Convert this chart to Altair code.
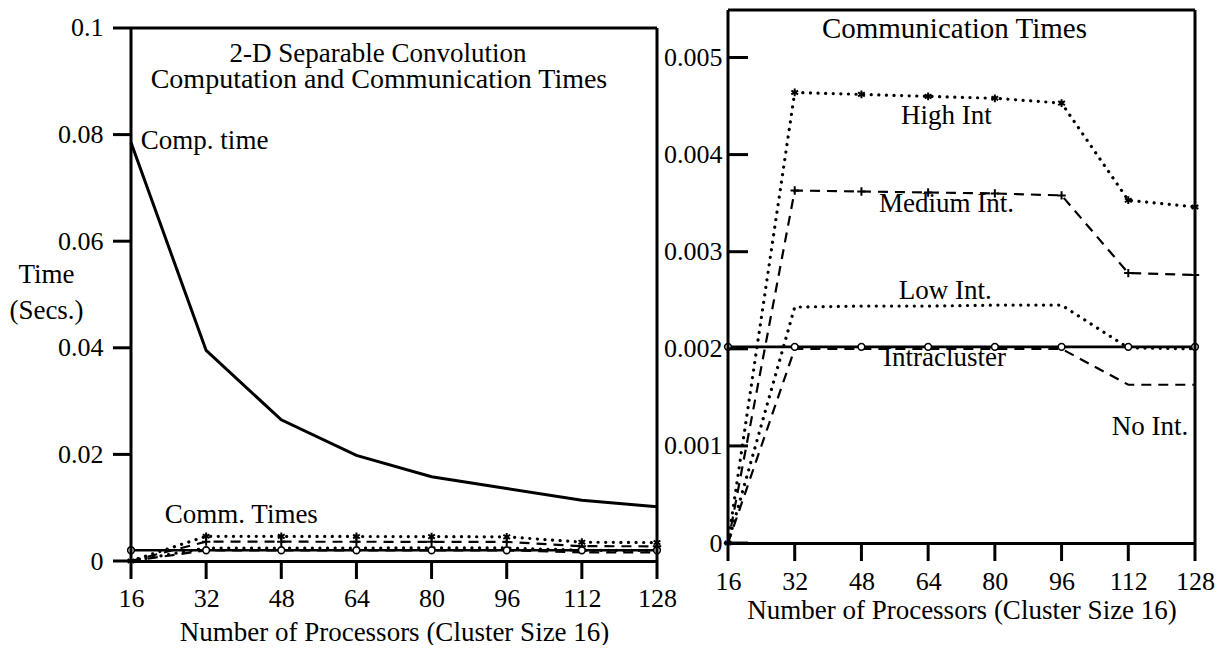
import altair as alt
import pandas as pd

# ---------------- data ----------------
procs = [16, 32, 48, 64, 80, 96, 112, 128]
comp_time = [0.0785, 0.0395, 0.0265, 0.0198, 0.0158, 0.0136, 0.0114, 0.0102]
high_int = [0.0, 0.00464, 0.00462, 0.00460, 0.00458, 0.00453, 0.00353, 0.00346]
medium_int = [0.0, 0.00363, 0.00362, 0.00361, 0.00360, 0.00358, 0.00278, 0.00276]
low_int = [0.0, 0.00243, 0.00244, 0.00244, 0.00245, 0.00245, 0.00201, 0.00200]
no_int = [0.0, 0.00200, 0.00200, 0.00200, 0.00200, 0.00200, 0.00163, 0.00163]
intracluster = [0.00202, 0.00202, 0.00202, 0.00202, 0.00202, 0.00202, 0.00202, 0.00202]

x_ticks = [16, 32, 48, 64, 80, 96, 112, 128]
left_ticks = [0, 0.02, 0.04, 0.06, 0.08, 0.1]
right_ticks = [0, 0.001, 0.002, 0.003, 0.004, 0.005]

series_names = ["High Int", "Medium Int", "Low Int", "No Int", "Intracluster"]
series_values = [high_int, medium_int, low_int, no_int, intracluster]

rows = []
for name, vals in zip(series_names, series_values):
    for p, v in zip(procs, vals):
        rows.append({"procs": p, "time": v, "series": name})
comm = pd.DataFrame(rows)
comp = pd.DataFrame({"procs": procs, "time": comp_time})

# ---------------- styling / geometry ----------------
FONT = "Liberation Serif"
ASTERISK = "M0,-1L0,1M-0.87,-0.5L0.87,0.5M-0.87,0.5L0.87,-0.5"
PLUS = "M-1,0L1,0M0,-1L0,1"

LEFT_W, RIGHT_W, PANEL_H = 526, 467, 551

LINE_STYLE = {
    "High Int": dict(strokeDash=[0.1, 7.5], strokeCap="round", strokeWidth=3.2),
    "Medium Int": dict(strokeDash=[10, 7], strokeWidth=2.2),
    "Low Int": dict(strokeDash=[0.1, 7.5], strokeCap="round", strokeWidth=3.2),
    "No Int": dict(strokeDash=[10, 7], strokeWidth=2.2),
    "Intracluster": dict(strokeWidth=2.6),
}
MARKERS = {
    "High Int": dict(shape=ASTERISK, size=60, filled=False, strokeWidth=2),
    "Medium Int": dict(shape=PLUS, size=70, filled=False, strokeWidth=2),
    "Intracluster": dict(shape="circle", size=45, filled=True, fill="white",
                         stroke="black", strokeWidth=1.6),
}

COMMON_AXIS = dict(labelFont=FONT, titleFont=FONT, labelColor="black",
                   titleColor="black", domainColor="black",
                   grid=False, labelOverlap=False, labelFlush=False,
                   titleFontWeight="normal", ticks=False, tickSize=0)

X_MIN, X_MAX = x_ticks[0], x_ticks[-1]
XS = alt.Scale(domain=[X_MIN, X_MAX], nice=False, zero=False)
LEFT_BOTTOM, LEFT_TOP = 0, 0.103377
LEFT_Y = alt.Scale(domain=[LEFT_BOTTOM, LEFT_TOP], nice=False, zero=False)
RIGHT_BOTTOM, RIGHT_TOP = -0.000185, 0.005489
RIGHT_Y = alt.Scale(domain=[RIGHT_BOTTOM, RIGHT_TOP], nice=False, zero=False)


def frame_and_ticks(top, yvals, width, ybot, ytop, y_len_px, x_len_px):
    """Panel frame (left, right, top edges) plus tick marks, all as rule
    segments; tick lengths in pixels are converted through the scale ratios."""
    x_per_px = (X_MAX - X_MIN) / width
    y_per_px = (ytop - ybot) / PANEL_H
    p1 = [X_MIN, X_MAX, X_MIN]
    p2 = [X_MIN, X_MAX, X_MAX]
    t1 = [0, 0, top]
    t2 = [top, top, top]
    for v in yvals:  # y-axis ticks
        p1.append(X_MIN)
        p2.append(X_MIN + y_len_px * x_per_px)
        t1.append(v)
        t2.append(v)
    for v in x_ticks:  # x-axis ticks hanging below the zero line
        p1.append(v)
        p2.append(v)
        t1.append(0)
        t2.append(-x_len_px * y_per_px)
    return pd.DataFrame({"procs": p1, "procs2": p2, "time": t1, "time2": t2})


def panel_layers(X, Y, frame, notes):
    layers = []
    for name, style in LINE_STYLE.items():
        layers.append(
            alt.Chart(comm).transform_filter(alt.datum.series == name)
            .mark_line(color="black", **style).encode(x=X, y=Y)
        )
    for name, m in MARKERS.items():
        layers.append(
            alt.Chart(comm).transform_filter(alt.datum.series == name)
            .mark_point(color="black", opacity=1, **m).encode(x=X, y=Y)
        )
    layers.append(
        alt.Chart(frame).mark_rule(color="black", strokeWidth=3)
        .encode(x=X, x2="procs2:Q", y=Y, y2="time2:Q")
    )
    for (align, size), grp in notes.groupby(["align", "size"]):
        layers.append(
            alt.Chart(grp[["label", "procs", "time"]]).mark_text(
                font=FONT, fontSize=float(size), align=align, baseline="middle",
                color="black").encode(x=X, y=Y, text="label:N")
        )
    return layers


# ---------------- left panel ----------------
left_x_axis = alt.Axis(values=x_ticks, format="d", domainWidth=3,
                       labelFontSize=26, labelPadding=24,
                       title="Number of Processors (Cluster Size 16)",
                       titleFontSize=27, titlePadding=8, **COMMON_AXIS)
left_y_axis = alt.Axis(values=left_ticks, format="~g", domain=False,
                       labelFontSize=26, labelPadding=28,
                       title=["Time", "(Secs.)"], titleAngle=0, titleAlign="center",
                       titleBaseline="middle", titleX=-85, titleY=264,
                       titleFontSize=27, titleLineHeight=36, **COMMON_AXIS)
LX = alt.X("procs:Q", scale=XS, axis=left_x_axis)
LY = alt.Y("time:Q", scale=LEFT_Y, axis=left_y_axis)

left_notes = pd.DataFrame({
    "label": ["2-D Separable Convolution", "Computation and Communication Times",
              "Comp. time", "Comm. Times"],
    "procs": [68.6, 68.8, 18.1, 23.2],
    "time": [0.0951, 0.0903, 0.0788, 0.0087],
    "align": ["center", "center", "left", "left"],
    "size": [27, 28, 27, 27],
})
left_frame = frame_and_ticks(left_ticks[-1], left_ticks, LEFT_W,
                             LEFT_BOTTOM, LEFT_TOP, -18, 18)
left = alt.layer(
    alt.Chart(comp).mark_line(color="black", strokeWidth=3).encode(x=LX, y=LY),
    *panel_layers(LX, LY, left_frame, left_notes),
).properties(width=LEFT_W, height=PANEL_H)

# ---------------- right panel ----------------
right_x_axis = alt.Axis(values=x_ticks, format="d", domainWidth=3, offset=-18,
                        labelFontSize=26, labelPadding=25,
                        title="Number of Processors (Cluster Size 16)",
                        titleFontSize=27, titlePadding=3, **COMMON_AXIS)
right_y_axis = alt.Axis(values=right_ticks, format="~g", domain=False,
                        labelFontSize=26, labelPadding=6,
                        title=None, **COMMON_AXIS)
RX = alt.X("procs:Q", scale=XS, axis=right_x_axis)
RY = alt.Y("time:Q", scale=RIGHT_Y, axis=right_y_axis)

right_notes = pd.DataFrame({
    "label": ["Communication Times", "High Int", "Medium Int.", "Low Int.",
              "Intracluster", "No Int."],
    "procs": [70.3, 68.4, 68.4, 68.1, 67.9, 117.2],
    "time": [0.005293, 0.004402, 0.003494, 0.0026, 0.001909, 0.001194],
    "align": ["center"] * 6,
    "size": [29, 27, 27, 27, 27, 27],
})
right_frame = frame_and_ticks(RIGHT_TOP, right_ticks, RIGHT_W,
                              RIGHT_BOTTOM, RIGHT_TOP, 20, 18)
right = alt.layer(
    *panel_layers(RX, RY, right_frame, right_notes),
).properties(width=RIGHT_W, height=PANEL_H)

chart = alt.hconcat(left, right, spacing=71, bounds="flush").properties(
    padding={"left": 0, "top": 0, "right": 0, "bottom": 0}
).configure(background="white").configure_view(stroke=None)

chart.save("out.html", embed_options={"renderer": "svg", "actions": False})
